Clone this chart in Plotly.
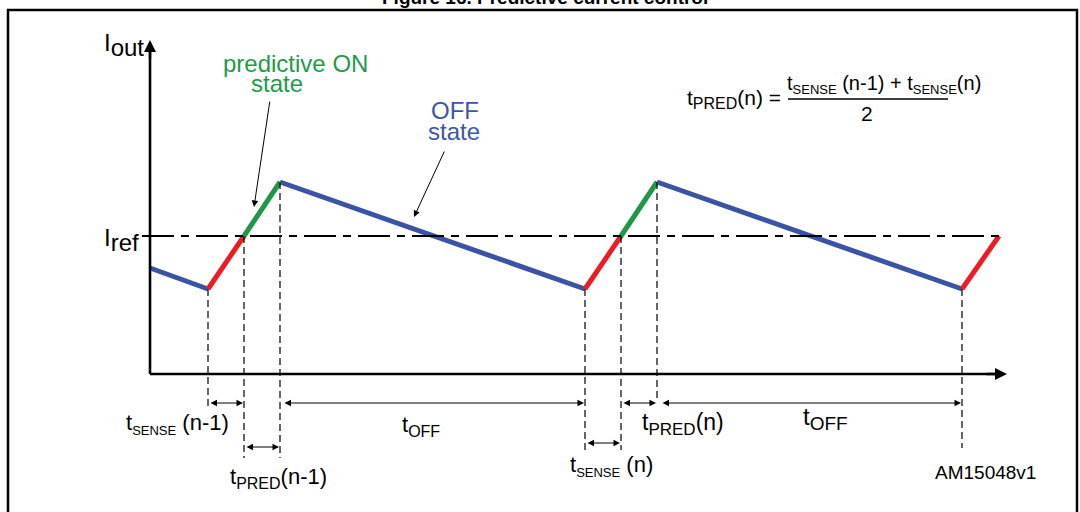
import plotly.graph_objects as go

# ---------------- data (diagram units: time t, output current I) ----------------
t_knots = [0, 58, 94, 130, 435, 471, 507, 812, 849]
i_knots = [106, 85, 138, 192, 85, 138, 192, 85, 138]
seg_phase = ["off", "sense", "pred", "off", "sense", "pred", "off", "sense"]
i_ref = 138
# timing intervals between knots (start knot, end knot, arrow row)
interval_start = [1, 3, 5, 6, 2, 4]
interval_end = [2, 4, 6, 7, 3, 5]
interval_row = [0, 0, 0, 0, 1, 1]
interval_labels = ["t<sub><span style='font-size:13px'>SENSE</span></sub> (n-1)",
                   "t<sub><span style='font-size:16px'>OFF</span></sub>",
                   "t<sub><span style='font-size:17px'>PRED</span></sub>(n)",
                   "t<sub><span style='font-size:19px'>OFF</span></sub>",
                   "t<sub><span style='font-size:16px'>PRED</span></sub>(n-1)",
                   "t<sub><span style='font-size:13px'>SENSE</span></sub> (n)"]
drop_knots = [1, 2, 3, 4, 5, 6, 7]

# ---------------- styling / layout ----------------
W, H = 1080, 512
X0, Y0 = 150, 374          # pixel position of the origin
def X(px): return px - X0
def Y(py): return Y0 - py

COL = {"off": "#3a53a4", "sense": "#ed1c24", "pred": "#1f9747"}
GREEN_TXT = "#1f9a4b"
BLUE_TXT = "#3c56a6"
FONT = "Liberation Sans, Arial, sans-serif"

drop_bottom_px = [407, 458, 458, 450, 450, 402, 448]
row_px = [403, 447]
row2_px_second = 443
label_px = [(177, 424), (421, 426), (683, 424), (825, 418), (278, 478), (611, 466)]
label_size = [22, 22, 23, 24, 22, 22]

fig = go.Figure()

# waveform, one trace per phase colour
for ph in ["off", "sense", "pred"]:
    xs, ys = [], []
    for k, p in enumerate(seg_phase):
        if p == ph:
            xs += [t_knots[k], t_knots[k + 1], None]
            ys += [i_knots[k], i_knots[k + 1], None]
    fig.add_trace(go.Scatter(x=xs, y=ys, mode="lines",
                             line=dict(color=COL[ph], width=5),
                             hoverinfo="skip", showlegend=False))

# vertical dashed drop lines
xs, ys = [], []
for k, b in zip(drop_knots, drop_bottom_px):
    xs += [t_knots[k], t_knots[k], None]
    ys += [i_knots[k], Y(b), None]
fig.add_trace(go.Scatter(x=xs, y=ys, mode="lines",
                         line=dict(color="black", width=1.2, dash="7px,4px"),
                         hoverinfo="skip", showlegend=False))

# reference level (dash-dot)
fig.add_trace(go.Scatter(x=[X(142), X(1000)], y=[i_ref, i_ref], mode="lines",
                         line=dict(color="black", width=2, dash="32px,7px,8px,7px"),
                         hoverinfo="skip", showlegend=False))

# axes lines
fig.add_trace(go.Scatter(x=[0, 0, None, 0, X(1000)], y=[0, Y(50), None, 0, 0], mode="lines",
                         line=dict(color="black", width=2.6),
                         hoverinfo="skip", showlegend=False))

ann = []
# axis arrowheads
ann.append(dict(x=0, y=Y(40), ax=0, ay=Y(60), xref="x", yref="y", axref="x", ayref="y",
                showarrow=True, arrowhead=2, arrowsize=1.0, arrowwidth=2.4, arrowcolor="black", text=""))
ann.append(dict(x=X(1007), y=0, ax=X(985), ay=0, xref="x", yref="y", axref="x", ayref="y",
                showarrow=True, arrowhead=2, arrowsize=1.0, arrowwidth=2.4, arrowcolor="black", text=""))

# interval double arrows
for s, e, r in zip(interval_start, interval_end, interval_row):
    ypx = row_px[r]
    if r == 1 and s >= 4:
        ypx = row2_px_second
    x1 = t_knots[s] + 1
    x2 = t_knots[e] - 1
    if s == 3:
        x1 = t_knots[s] + 3
    if s == 6:
        x1 = t_knots[s] + 4
    ann.append(dict(x=x2, y=Y(ypx), ax=x1, ay=Y(ypx), xref="x", yref="y", axref="x", ayref="y",
                    showarrow=True, arrowhead=2, arrowsize=1.3, arrowwidth=1, arrowside="end+start",
                    arrowcolor="black", text=""))

def label(px, py, text, size=22, color="black", xanchor="center"):
    ann.append(dict(x=X(px), y=Y(py), xref="x", yref="y", text=text, showarrow=False,
                    xanchor=xanchor, yanchor="middle",
                    font=dict(family=FONT, size=size, color=color)))

for (px, py), txt, sz in zip(label_px, interval_labels, label_size):
    label(px, py, txt, size=sz)

# axis labels
label(124, 45, "I<sub><span style='font-size:24px'>out</span></sub>", size=24)
label(121, 240, "I<sub><span style='font-size:24px'>ref</span></sub>", size=24)

# state annotations
label(295, 63, "predictive ON", size=24, color=GREEN_TXT)
label(277, 83, "state", size=24, color=GREEN_TXT)
label(455, 110, "OFF", size=24, color=BLUE_TXT)
label(454, 131, "state", size=24, color=BLUE_TXT)
ann.append(dict(x=X(254), y=Y(207), ax=X(270), ay=Y(100), xref="x", yref="y", axref="x", ayref="y",
                showarrow=True, arrowhead=2, arrowsize=1.3, arrowwidth=1, arrowcolor="black", text=""))
ann.append(dict(x=X(414), y=Y(217), ax=X(445), ay=Y(150), xref="x", yref="y", axref="x", ayref="y",
                showarrow=True, arrowhead=2, arrowsize=1.3, arrowwidth=1, arrowcolor="black", text=""))

# formula
label(685, 99, "t<sub><span style='font-size:16px'>PRED</span></sub>(n) =", size=21, xanchor="left")
label(884, 84, "t<sub><span style='font-size:13px'>SENSE</span></sub> (n-1) + t<sub><span style='font-size:13px'>SENSE</span></sub>(n)", size=20)
label(867, 113, "2", size=21)

# figure id
label(985, 472, "AM15048v1", size=19)

# title (cropped at the top edge)
ann.append(dict(x=545 / W, y=1 + 2.5 / H, xref="paper", yref="paper", text="<b>Figure 16. Predictive current control</b>",
                showarrow=False, xanchor="center", yanchor="middle",
                font=dict(family=FONT, size=19, color="black")))

shapes = [
    # frame
    dict(type="rect", xref="x", yref="y", x0=X(8), x1=X(1077), y0=Y(10), y1=Y(530),
         line=dict(color="black", width=2.5), fillcolor="rgba(0,0,0,0)"),
    # fraction bar
    dict(type="line", xref="x", yref="y", x0=X(788), x1=X(948), y0=Y(99), y1=Y(99),
         line=dict(color="black", width=1.5)),
]

fig.update_layout(
    width=W, height=H,
    margin=dict(l=0, r=0, t=0, b=0),
    paper_bgcolor="white", plot_bgcolor="white",
    xaxis=dict(range=[X(0), X(W)], visible=False, fixedrange=True),
    yaxis=dict(range=[Y(H), Y(0)], visible=False, fixedrange=True),
    annotations=ann, shapes=shapes,
    showlegend=False,
)

fig.write_html("out.html", config={"displayModeBar": False},
               post_script="document.body.style.margin='0';document.body.style.overflow='hidden';")
